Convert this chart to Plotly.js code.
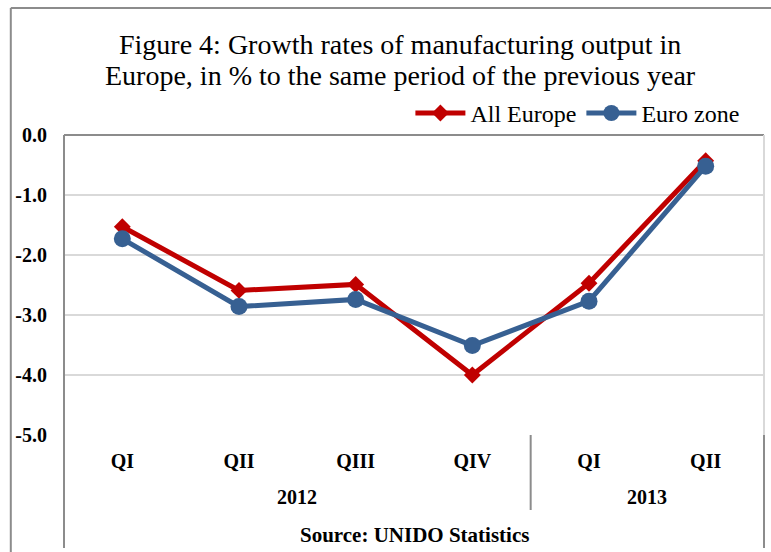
<!DOCTYPE html>
<html>
<head>
<meta charset="utf-8">
<script src="https://cdn.plot.ly/plotly-3.0.1.min.js"></script>
<style>html,body{margin:0;padding:0;background:#fff;}#chart{width:771px;height:552px;}</style>
</head>
<body>
<div id="chart"></div>
<script>
const years = ["2012","2012","2012","2012","2013","2013"];
const quarters = ["QI","QII","QIII","QIV","QI","QII"];
const allEurope = [-1.53, -2.59, -2.49, -4.0, -2.47, -0.43];
const euroZone = [-1.73, -2.86, -2.74, -3.51, -2.77, -0.52];
const yTicks = [0, -1, -2, -3, -4, -5];
const yTickText = ["0.0","-1.0","-2.0","-3.0","-4.0","-5.0"];
const titleLines = ["Figure 4: Growth rates of manufacturing output in", "Europe, in % to the same period of the previous year"];
const sourceText = "Source: UNIDO Statistics";

const serif = "Liberation Serif, Times New Roman, serif";

// unique category keys built from the two levels
const cats = years.map((y, i) => y + " " + quarters[i]);

// group spans for year labels (category index centres)
const groups = [];
years.forEach((y, i) => {
  const g = groups.length ? groups[groups.length - 1] : null;
  if (g && g.year === y) g.end = i; else groups.push({year: y, start: i, end: i});
});

const traces = [
  {
    x: cats, y: allEurope, name: "All Europe", type: "scatter", mode: "lines+markers",
    line: {color: "#C00000", width: 5},
    marker: {symbol: "diamond", size: 13, color: "#C00000"}
  },
  {
    x: cats, y: euroZone, name: "Euro zone", type: "scatter", mode: "lines+markers",
    line: {color: "#376092", width: 5},
    marker: {symbol: "circle", size: 17, color: "#376092"}
  }
];

const annotations = [];
titleLines.forEach((t, i) => {
  annotations.push({text: t, xref: "paper", yref: "paper", x: 0.48, y: 1.3 - i * 0.1, xanchor: "center", yanchor: "middle",
    showarrow: false, font: {family: serif, size: 28, color: "#000"}});
});
groups.forEach(g => {
  annotations.push({text: g.year, xref: "x", yref: "paper", x: (g.start + g.end) / 2, y: -0.207, xanchor: "center", yanchor: "middle",
    showarrow: false, font: {family: serif, size: 20, weight: "bold", color: "#000"}});
});
annotations.push({text: sourceText, xref: "paper", yref: "paper", x: 0.5, y: -0.333, xanchor: "center", yanchor: "middle",
  showarrow: false, font: {family: serif, size: 21, weight: "bold", color: "#000"}});

const shapes = [
  {type: "line", xref: "paper", yref: "paper", x0: 0, x1: 1, y0: 1, y1: 1, line: {color: "#8c8c8c", width: 2}},
  {type: "line", xref: "paper", yref: "paper", x0: 1, x1: 1, y0: 0, y1: 1, line: {color: "#d9d9d9", width: 2}},
  {type: "line", xref: "paper", yref: "paper", x0: 0, x1: 0, y0: -0.377, y1: 1, line: {color: "#8c8c8c", width: 2}},
  {type: "line", xref: "paper", yref: "paper", x0: 1, x1: 1, y0: -0.377, y1: 0, line: {color: "#8c8c8c", width: 2}},
  {type: "line", xref: "paper", yref: "paper", x0: -0.076, x1: -0.076, y0: -0.39, y1: 1.423, line: {color: "#8c8c8c", width: 2}},
  {type: "line", xref: "paper", yref: "paper", x0: -0.076, x1: 1.01, y0: 1.423, y1: 1.423, line: {color: "#8c8c8c", width: 2}}
];
groups.slice(1).forEach(g => {
  shapes.push({type: "line", xref: "x", yref: "paper", x0: g.start - 0.5, x1: g.start - 0.5, y0: -0.25, y1: 0, line: {color: "#8c8c8c", width: 2}});
});

const layout = {
  width: 771, height: 552,
  margin: {l: 64, r: 7, t: 135, b: 117},
  paper_bgcolor: "#fff", plot_bgcolor: "#fff",
  font: {family: serif, color: "#000"},
  showlegend: true,
  legend: {
    orientation: "h", x: 0.972, xanchor: "right", y: 1.072, yanchor: "middle",
    font: {family: serif, size: 24, color: "#000"}, bgcolor: "rgba(0,0,0,0)",
    itemwidth: 50, traceorder: "normal"
  },
  xaxis: {
    type: "category", range: [-0.5, cats.length - 0.5],
    tickvals: cats, ticktext: quarters,
    showgrid: false, zeroline: false, showline: false,
    tickfont: {family: serif, size: 20, weight: "bold", color: "#000"},
    ticks: "", ticklabelstandoff: 12, fixedrange: true
  },
  yaxis: {
    range: [-5, 0], tickvals: yTicks, ticktext: yTickText,
    showgrid: true, gridcolor: "#d9d9d9", gridwidth: 2,
    zeroline: false, showline: false,
    tickfont: {family: serif, size: 20, weight: "bold", color: "#000"},
    ticks: "", ticklabelstandoff: 16, fixedrange: true
  },
  shapes: shapes,
  annotations: annotations
};

Plotly.newPlot("chart", traces, layout, {displayModeBar: false, staticPlot: true});
</script>
</body>
</html>
